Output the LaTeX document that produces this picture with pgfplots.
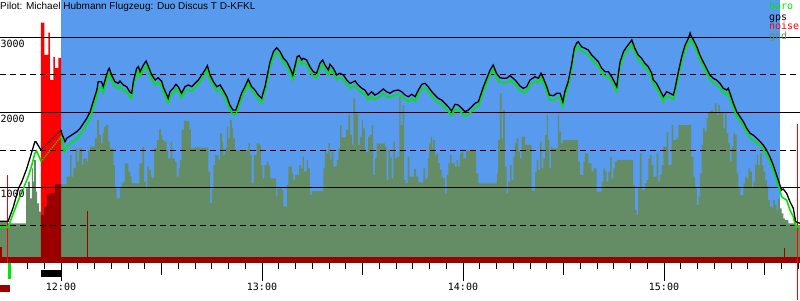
\documentclass[border=0pt]{standalone}
\usepackage{pgfplots}
\pgfplotsset{compat=1.18}
\usepackage{pgfplotstable}
\usepackage{fontspec}
\setmainfont{Liberation Sans}
\newfontfamily\monof{DejaVu Sans Mono}
\definecolor{skyb}{RGB}{88,154,238}
\definecolor{gndc}{RGB}{101,141,101}
\definecolor{dred}{RGB}{155,0,0}
\definecolor{baroc}{RGB}{0,232,0}

% time: minutes after 12:00 ; altitude in m
\pgfplotstableread{
t alt
-18.21 549
-15.8 549
-14.2 744
-12.7 989
-11.7 1077
-10.2 1256
-8.7 1477
-7.8 1611
-7.5 1611
-6.3 1523
-6.0 1500
}\gpsa

\pgfplotstableread{
t alt
0.0 1767
0.2 1723
1.2 1611
1.7 1656
3.2 1700
4.7 1744
5.7 1789
6.7 1856
7.7 1923
8.7 2011
9.6 2144
10.7 2300
11.1 2411
12.1 2411
12.6 2344
13.6 2500
14.1 2567
14.4 2589
15.1 2500
16.1 2411
17.1 2389
17.6 2420
18.6 2367
19.6 2344
20.6 2270
21.1 2256
21.6 2411
22.6 2589
23.1 2611
23.6 2544
24.6 2633
25.4 2687
26.1 2611
27.1 2500
28.1 2433
29.0 2464
30.1 2411
30.5 2344
31.6 2233
32.0 2189
32.5 2277
33.5 2323
34.3 2376
35.0 2344
36.0 2256
37.0 2344
38.0 2367
39.0 2344
40.0 2389
41.0 2433
42.0 2500
43.0 2567
43.7 2624
44.5 2500
45.5 2411
46.5 2344
47.5 2367
48.4 2300
49.5 2211
50.4 2100
51.3 2033
52.2 2033
52.9 2123
53.9 2256
54.9 2344
55.9 2443
56.9 2344
57.9 2300
58.9 2233
59.9 2189
60.4 2273
60.9 2344
61.6 2500
62.4 2677
63.4 2811
64.4 2864
65.4 2811
66.4 2723
67.4 2677
68.4 2589
69.2 2500
69.9 2633
70.5 2744
71.1 2757
71.9 2700
72.3 2723
73.3 2700
74.3 2611
75.3 2544
76.3 2523
77.3 2656
78.1 2700
78.8 2633
79.8 2567
80.3 2643
81.3 2589
82.3 2500
83.3 2523
84.3 2500
85.3 2433
86.3 2389
87.8 2420
88.7 2367
89.8 2323
90.7 2300
91.7 2233
92.7 2277
93.7 2233
94.7 2256
96.2 2313
97.2 2277
98.2 2256
99.2 2287
100.7 2300
101.7 2277
102.7 2233
103.7 2211
104.7 2243
105.7 2211
106.7 2300
107.7 2376
108.7 2389
109.6 2344
110.7 2277
111.6 2233
112.6 2189
113.6 2167
114.6 2123
115.6 2077
116.6 2020
117.6 2109
118.6 2100
119.6 2056
120.6 2011
121.6 2033
122.6 2077
123.6 2123
124.6 2144
125.1 2211
126.1 2344
127.1 2456
128.1 2567
129.0 2633
130.0 2523
131.0 2464
132.0 2456
133.0 2456
134.0 2491
135.0 2456
136.0 2411
137.0 2353
138.0 2323
139.0 2344
140.0 2433
141.5 2477
142.5 2456
143.3 2523
144.0 2456
145.0 2344
145.8 2233
147.0 2224
148.0 2256
149.0 2256
149.8 2144
150.4 2277
151.4 2411
152.4 2633
153.2 2856
153.9 2923
154.4 2944
155.4 2877
156.4 2856
157.4 2833
158.4 2767
159.4 2723
160.4 2677
161.4 2589
162.4 2544
163.4 2544
164.4 2477
165.4 2389
165.9 2344
166.4 2523
166.9 2677
167.9 2811
168.9 2877
169.9 2936
170.4 2967
171.3 2856
172.3 2767
173.3 2723
174.3 2656
175.3 2611
176.3 2527
176.8 2433
177.8 2389
178.8 2300
179.8 2211
180.8 2277
181.8 2256
182.8 2233
183.3 2323
184.3 2544
185.3 2744
186.3 2900
187.3 2989
187.8 3060
188.1 3020
188.8 2967
189.8 2877
190.7 2767
191.7 2677
192.7 2589
193.7 2500
194.7 2456
195.7 2433
196.7 2389
197.7 2323
198.7 2300
199.2 2323
199.7 2256
200.7 2123
201.7 2011
202.7 1944
203.7 1877
204.7 1789
205.7 1723
206.6 1700
207.7 1656
208.7 1611
209.6 1567
210.6 1500
211.6 1411
212.6 1300
213.6 1167
214.6 1033
215.1 967
215.6 980
216.6 923
217.6 811
218.6 723
219.3 544
220.6 523
}\gpsb

\pgfplotstableread{
t alt
-18.21 469
-15.8 469
-14.2 660
-12.7 833
-11.2 989
-9.8 1144
-8.7 1300
-7.8 1456
-7.3 1487
-6.3 1389
-6.0 1344
}\baroa

\pgfplotstableread{
t alt
0.0 1677
0.3 1633
1.0 1477
1.7 1540
3.2 1600
4.7 1650
5.7 1700
6.7 1770
7.7 1840
8.7 1925
9.6 2060
10.7 2215
11.1 2330
12.1 2335
12.6 2270
13.6 2425
14.1 2495
14.4 2520
15.1 2430
16.1 2345
17.1 2320
17.6 2350
18.6 2300
19.6 2275
20.6 2205
21.1 2190
21.6 2351
22.6 2529
23.1 2551
23.6 2484
24.6 2573
25.4 2627
26.1 2551
27.1 2440
28.1 2373
29.0 2404
30.1 2351
30.5 2284
31.6 2173
32.0 2129
32.5 2217
33.5 2263
34.3 2316
35.0 2284
36.0 2196
37.0 2284
38.0 2307
39.0 2284
40.0 2329
41.0 2373
42.0 2440
43.0 2507
43.7 2564
44.5 2440
45.5 2351
46.5 2284
47.5 2307
48.4 2240
49.5 2151
50.4 2040
51.3 1973
52.2 1973
52.9 2063
53.9 2196
54.9 2284
55.9 2383
56.9 2284
57.9 2240
58.9 2173
59.9 2129
60.4 2213
60.9 2284
61.6 2440
62.4 2617
63.4 2751
64.4 2804
65.4 2751
66.4 2663
67.4 2617
68.4 2529
69.2 2440
69.9 2573
70.5 2684
71.1 2697
71.9 2640
72.3 2663
73.3 2640
74.3 2551
75.3 2484
76.3 2463
77.3 2596
78.1 2640
78.8 2573
79.8 2507
80.3 2583
81.3 2529
82.3 2440
83.3 2463
84.3 2440
85.3 2373
86.3 2329
87.8 2360
88.7 2307
89.8 2263
90.7 2240
91.7 2173
92.7 2217
93.7 2173
94.7 2196
96.2 2253
97.2 2217
98.2 2196
99.2 2227
100.7 2240
101.7 2217
102.7 2173
103.7 2151
104.7 2183
105.7 2151
106.7 2240
107.7 2316
108.7 2329
109.6 2284
110.7 2217
111.6 2173
112.6 2129
113.6 2107
114.6 2063
115.6 2017
116.6 1960
117.6 2049
118.6 2040
119.6 1996
120.6 1951
121.6 1973
122.6 2017
123.6 2063
124.6 2084
125.1 2151
126.1 2284
127.1 2396
128.1 2507
129.0 2573
130.0 2463
131.0 2404
132.0 2396
133.0 2396
134.0 2431
135.0 2396
136.0 2351
137.0 2293
138.0 2263
139.0 2284
140.0 2373
141.5 2417
142.5 2396
143.3 2463
144.0 2396
145.0 2284
145.8 2173
147.0 2164
148.0 2196
149.0 2196
149.8 2084
150.4 2217
151.4 2351
152.4 2573
153.2 2796
153.9 2863
154.4 2884
155.4 2817
156.4 2796
157.4 2773
158.4 2707
159.4 2663
160.4 2617
161.4 2529
162.4 2484
163.4 2484
164.4 2417
165.4 2329
165.9 2284
166.4 2463
166.9 2617
167.9 2751
168.9 2817
169.9 2876
170.4 2907
171.3 2796
172.3 2707
173.3 2663
174.3 2596
175.3 2551
176.3 2467
176.8 2373
177.8 2329
178.8 2240
179.8 2151
180.8 2217
181.8 2196
182.8 2173
183.3 2263
184.3 2484
185.3 2684
186.3 2840
187.3 2929
187.8 2960
188.1 2960
188.8 2907
189.8 2817
190.7 2707
191.7 2617
192.7 2529
193.7 2440
194.7 2396
195.7 2373
196.7 2329
197.7 2263
198.7 2240
199.2 2263
199.7 2196
200.7 2063
201.7 1951
202.7 1884
203.7 1817
204.7 1729
205.7 1663
206.6 1640
207.7 1596
208.7 1551
209.6 1507
210.6 1440
211.6 1351
212.6 1240
213.6 1100
214.6 967
215.1 877
215.6 860
216.6 833
217.6 700
218.6 611
219.3 477
220.6 477
}\barob

\pgfplotstableread{
t alt
-18.21 540
-16.1 522
-10.4 989
-9.8 1078
-9.3 856
-8.7 1256
-8.3 1078
-8.0 1367
-7.5 944
-7.1 789
-6.5 678
-6.0 633
-5.1 744
-4.2 913
-3.3 927
-1.8 1047
0.0 1043
1.7 1144
2.7 1433
3.2 1144
3.7 1256
4.4 1523
4.9 1344
5.4 1523
6.2 1300
6.7 1389
7.7 1344
8.1 1500
8.7 1544
10.1 1656
10.8 1900
11.3 1700
11.9 1589
12.4 1722
12.8 1811
13.4 1833
14.1 1611
14.6 1523
15.6 1300
16.1 989
16.6 856
17.6 989
18.1 1056
18.6 1077
19.1 1322
20.1 1211
20.6 1150
21.1 1056
23.4 1322
24.3 1544
24.8 1077
25.3 989
25.8 1278
26.3 1233
26.8 1144
27.3 1122
27.8 1523
28.6 1633
29.3 1780
29.8 1700
30.2 1633
30.7 1611
31.5 1500
32.0 1389
32.7 1611
33.2 1389
34.0 1344
34.5 1144
35.1 1256
35.5 1367
36.0 1767
36.7 1887
38.3 1767
38.8 1523
39.5 1533
44.0 1211
44.5 789
45.0 967
45.5 1300
46.0 1433
47.0 1367
47.5 1722
48.0 1611
48.4 1433
49.0 1523
49.5 1811
49.9 1656
50.4 1900
51.0 1789
51.4 1656
51.9 1500
55.9 1589
56.4 1433
56.9 1056
57.6 1433
58.4 1589
59.2 1567
59.7 1300
60.2 1122
60.7 1300
61.4 1344
61.9 1300
62.4 1122
64.2 878
64.6 989
65.9 967
66.4 744
67.4 1033
67.9 1278
68.9 1189
69.3 1100
69.9 1167
71.1 1300
71.6 1256
72.1 1411
72.5 1211
73.3 1367
73.8 1256
74.3 900
74.8 953
78.3 1256
78.8 1500
79.3 1456
79.8 1589
80.3 1367
80.8 1478
81.3 1278
82.3 1367
82.8 1523
83.3 1833
83.8 1667
85.1 1767
85.8 1967
86.3 1700
86.8 1567
87.3 2189
87.8 1980
88.7 1567
89.3 1678
89.8 1900
90.2 1789
90.7 1478
91.7 1678
92.2 1700
92.7 1833
93.2 1167
93.7 1389
94.2 1589
96.7 1544
97.2 1100
97.7 1500
98.2 1400
98.7 1122
99.2 1611
99.7 1389
100.2 1411
101.0 2211
101.4 1833
102.0 2100
102.4 1100
102.9 1056
103.5 1411
104.0 1144
105.4 1247
106.0 1144
106.7 1069
108.2 1256
108.7 1122
109.5 1389
109.9 1589
110.4 1678
110.8 1523
111.1 1633
111.6 1433
112.1 1456
112.6 1322
113.1 1233
113.6 1144
114.1 1122
114.6 922
115.1 1167
115.6 1322
116.1 1433
116.6 1322
117.6 1278
118.1 1367
118.6 1278
119.1 1456
119.6 1478
120.1 1389
120.9 1487
123.9 1189
124.6 1056
130.1 1189
130.5 1633
131.0 2256
131.5 1656
132.0 2033
132.5 1278
133.0 922
133.5 1077
134.0 1300
134.5 1100
135.0 1411
135.5 1589
136.0 1656
136.5 1478
137.0 1389
137.5 1678
138.5 1567
140.5 957
141.5 1211
142.0 1367
142.5 1233
143.0 1611
143.5 1256
144.0 1389
144.5 1700
145.0 1976
145.3 1633
145.8 1256
146.3 1544
146.7 1523
148.3 1967
148.7 1744
149.2 1589
149.8 1633
154.4 1344
154.9 1167
155.9 1344
156.4 1456
157.4 1322
158.4 1211
158.9 1256
159.9 944
161.4 1077
161.9 1256
162.4 1211
162.9 1077
163.4 1211
163.9 1411
164.4 1122
164.9 1256
165.4 1344
165.9 1367
170.8 1033
171.3 700
171.8 633
172.3 1011
172.8 1456
173.3 967
174.3 1056
174.8 1100
175.3 1389
175.8 1433
176.3 1300
176.8 1144
177.8 1456
178.3 1077
178.8 1167
179.3 1300
179.8 1544
180.8 1744
181.3 1300
182.3 1833
182.8 1633
183.8 1656
184.3 1833
188.1 1411
188.8 1144
189.3 989
189.8 767
190.3 878
190.7 1189
191.2 1567
191.7 1789
192.2 1744
192.7 1922
193.2 2003
193.7 2020
194.2 2033
194.7 1989
195.2 2123
195.7 1967
196.2 2100
196.7 1989
197.2 2011
197.7 1789
198.2 1989
198.7 1722
199.2 1589
199.7 1344
200.2 1544
200.7 1722
201.2 1700
201.7 1189
202.2 989
202.7 900
203.7 1056
204.2 1144
204.7 1122
205.2 1256
205.7 1211
206.2 989
206.7 1077
207.2 1300
207.7 1433
208.1 1300
208.7 1456
209.2 1300
209.7 1211
210.2 1100
210.7 1011
211.1 833
211.6 744
212.2 722
212.6 833
213.1 767
213.6 700
214.1 856
214.6 722
215.1 656
215.6 589
216.1 567
217.1 522
219.6 500
220.6 500
}\gnd

\pgfplotstableread{
t alt
-6.0 3197
-5.0 2767
-3.8 3064
-3.3 2433
-2.3 2740
-1.8 2593
-0.8 2727
0.0 2727
}\noise

\pgfplotstableread{
t alt
-6.0 633
-5.1 744
-4.2 913
-3.3 927
-1.8 1047
0.0 1047
}\noisegnd

\begin{document}
\begin{tikzpicture}
\begin{axis}[name=ax, scale only axis, width=800pt, height=262.5pt,
  xmin=-18.21, xmax=220.6, ymin=0, ymax=3500, clip=false, no markers,
  axis y line=none, axis x line*=bottom, x axis line style={draw=none},
  xtick={0,60,120,180}, xticklabels={12:00,13:00,14:00,15:00},
  minor xtick={-15,-10,...,220},
  extra x ticks={30,90,150,210}, extra x tick labels={},
  extra x tick style={major tick length=12.5pt},
  tick align=outside, major tick length=18pt, minor tick length=6.5pt,
  every tick/.style={black, line width=1pt},
  xticklabel style={font=\monof\fontsize{10}{10}\selectfont, anchor=base, inner sep=0pt, yshift=-9.5pt},
]
% flight-time background
\addplot[fill=skyb, draw=none] coordinates {(0,3500) (214.6,3500)} \closedcycle;
% engine noise
\addplot[const plot, fill=red, draw=none] table {\noise} \closedcycle;
% ground
\addplot[const plot, fill=gndc, draw=none] table {\gnd} \closedcycle;
% dark red noise parts
\addplot[const plot, fill=dred, draw=none] table {\noisegnd} \closedcycle;
\addplot[fill=dred, draw=none] coordinates {(-18.21,78) (220.6,78)} \closedcycle;
\addplot[fill=dred, draw=none] coordinates {(-18.21,211) (-17.6,211)} \closedcycle;
\addplot[dred, line width=1pt] coordinates {(8.0,0) (8.0,691)};
\addplot[dred, line width=1pt] coordinates {(215.9,0) (215.9,193)};
\addplot[red, line width=1pt] coordinates {(-16.0,0) (-16.0,1167)};
\addplot[red, line width=1pt] coordinates {(219.9,-500) (219.9,1847)};
% grid
\addplot[black, line width=1pt] coordinates {(-18.21,1000) (220.6,1000)};
\addplot[black, line width=1pt] coordinates {(-18.21,2000) (220.6,2000)};
\addplot[black, line width=1pt] coordinates {(-18.21,3000) (220.6,3000)};
\addplot[black, line width=1pt, dash pattern=on 6pt off 4pt] coordinates {(-18.21,500) (220.6,500)};
\addplot[black, line width=1pt, dash pattern=on 6pt off 4pt] coordinates {(-18.21,1500) (220.6,1500)};
\addplot[black, line width=1pt, dash pattern=on 6pt off 4pt] coordinates {(-18.21,2500) (220.6,2500)};
% baro
\addplot[baroc, line width=1.6pt] table {\baroa};
\addplot[baroc, line width=1.2pt, densely dotted] coordinates {(-6.0,1344) (0,1677)};
\addplot[baroc, line width=1.6pt] table {\barob};
% gps
\addplot[black, line width=1.3pt] table {\gpsa};
\addplot[black, line width=1.1pt, densely dotted] coordinates {(-6.0,1500) (0,1767)};
\addplot[black, line width=1.3pt] table {\gpsb};
% markers below the axis
\addplot[fill=baroc, draw=none] coordinates {(-15.8,0) (-15.8,-220) (-15.0,-220) (-15.0,0)};
\addplot[fill=black, draw=none] coordinates {(-6.0,-100) (-6.0,-189) (0,-189) (0,-100)};
\addplot[fill=dred, draw=none] coordinates {(-18.21,-300) (-18.21,-393) (-15.2,-393) (-15.2,-300)};
% texts
\node[anchor=base west, inner sep=0pt, font=\fontsize{10}{12}\selectfont] at (axis cs:-18.21,3367) {Pilot: Michael Hubmann Flugzeug: Duo Discus T D-KFKL};
\node[anchor=base west, inner sep=0pt, font=\monof\fontsize{10}{10}\selectfont] at (axis cs:-18.1,2867) {3000};
\node[anchor=base west, inner sep=0pt, font=\monof\fontsize{10}{10}\selectfont] at (axis cs:-18.1,1867) {2000};
\node[anchor=base west, inner sep=0pt, font=\monof\fontsize{10}{10}\selectfont] at (axis cs:-18.1,867) {1000};
\node[anchor=base west, inner sep=0pt, text=baroc, font=\monof\fontsize{10}{10}\selectfont] at (axis cs:211.3,3367) {baro};
\node[anchor=base west, inner sep=0pt, text=black, font=\monof\fontsize{10}{10}\selectfont] at (axis cs:211.3,3233) {gps};
\node[anchor=base west, inner sep=0pt, text=red, font=\monof\fontsize{10}{10}\selectfont] at (axis cs:211.3,3100) {noise};
\node[anchor=base west, inner sep=0pt, text=gndc, font=\monof\fontsize{10}{10}\selectfont] at (axis cs:211.3,2967) {gnd};
\end{axis}
\pgfresetboundingbox
\path (ax.south west) ++(0pt,-37.5pt) rectangle (ax.north east);
\end{tikzpicture}
\end{document}
